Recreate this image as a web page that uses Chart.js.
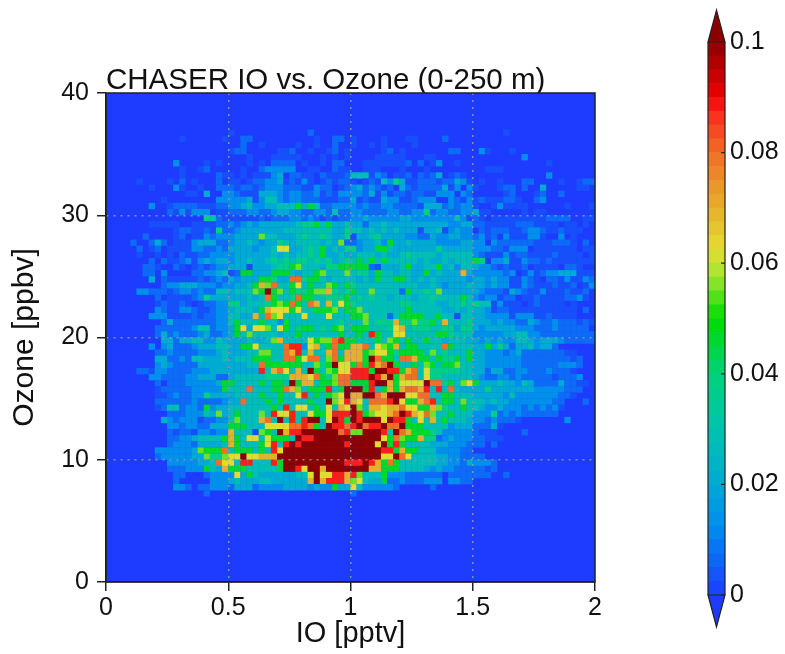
<!DOCTYPE html>
<html>
<head>
<meta charset="utf-8">
<title>CHASER IO vs. Ozone</title>
<script src="https://cdn.jsdelivr.net/npm/chart.js@4"></script>
<style>
    html, body { margin: 0; background: #fff; }
    #wrap { position: relative; width: 785px; height: 654px; }
    canvas { position: absolute; top: 0; }
    #heat-chart { left: 0; }
    #bar-chart { left: 690px; }
</style>
</head>
<body>
<div id="wrap">
    <canvas id="heat-chart" width="690" height="654"></canvas>
    <canvas id="bar-chart" width="95" height="654"></canvas>
</div>
<script>
// Values a code letter stands for, read against the colour bar
const levelValues = [0, 0.003, 0.007, 0.013, 0.02, 0.028, 0.037, 0.046, 0.055, 0.062, 0.07, 0.08, 0.088, 0.105];

const ioBinWidth = 0.025;
const ozoneBinWidth = 0.5;
const ozoneMax = 40;
const firstRow = 6; // rows above this one are empty

const colorbarTicks = [0, 0.02, 0.04, 0.06, 0.08, 0.1];
const colorValues = [0, 0.012, 0.02, 0.03, 0.04, 0.05, 0.0575, 0.0625, 0.07, 0.08, 0.0875, 0.09, 0.1];
const colorRGB = [[30,60,255],[0,140,240],[0,170,210],[0,195,175],[0,210,120],[0,220,0],[160,230,50],[230,220,50],[230,175,45],[240,110,40],[250,40,30],[240,0,0],[139,0,0]];

// One line per ozone bin from the top, one group per 10 IO bins, a code per cell
const cellRows = [
    "0 0 1000000000 0002000000 0 0 0000010000",
    "0 0010000001 0022000000 0000100220 1000010001 1000020000",
    "0 0 0020010000 0100100200 1001010000 1000000000",
    "0 0 1220000011 2001001201 0000012010 0000002200 0310001000",
    "0 0 0001000111 1100010101 0000111110 0011000000 0000000030",
    "0 0300001010 0001010222 2010010220 0011111112 0201300100 0 0010000000",
    "0 0010012000 0010023333 3001100211 0011100010 0010000000 0011100000",
    "0 0010000021 1010111340 2211021112 5551320112 0212401210 0 0030000000",
    "0000010000 1020100020 1101223341 2131012122 1012153641 1222122431 0100100022 0000100122",
    "0000000100 0310010022 2122123332 2211322012 3423212042 1222241303 1000122020 0400000110",
    "0 0001104003 3211144432 3322312133 3324131221 2211333032 0000012000 1200200000",
    "0000000001 0000000033 3334135532 3322211122 4121143311 2333003213 1211122100 2300000000",
    "0000000300 1222211122 3345334455 5747522333 3232233222 2144423233 1001311110 0000010001",
    "0 2131333011 2223322344 3322332522 3322223322 3362332233 4110000010 1100000000",
    "0 0000006521 1111121222 3323212122 3343333344 3333333531 2101111111 1122220011",
    "0000000111 1100111122 3234344444 4566757445 4424454444 4444443344 2211111222 1111011010",
    "0 0122112162 2344444445 5555555446 5545454544 4144513433 0212221123 3211211100",
    "0000002000 0120113233 3444485544 4565565446 1445644443 3224334433 2312031113 3100301000",
    "0000200242 0111344422 3445434465 4555545482 2344537445 4444333344 3303222222 1112221020",
    "0000020120 1111332232 4444344599 4456574546 6344775444 4444644444 3332213330 1111111011",
    "0000010010 1021122333 3444444545 4556574454 4555454456 5555455555 3211131221 1112111101",
    "0000000202 1123134344 3445445656 5665656456 5757575555 5454454555 7603341132 2121111111",
    "0000002210 0210121233 4441444566 7855546677 7772144457 4455745355 4332121120 1111022100",
    "0000002203 0000223345 1277444777 5455785558 5664755455 44745444a4 3333323013 1233444111",
    "0000000402 1111121232 4344477644 bb67754555 5454755775 4545444443 4434331132 1022131132",
    "0000000002 3344433323 34457a8b55 7957558757 6555555555 5445434445 4434331132 1112112013",
    "0000033222 1233232255 455587d785 766788a656 7558555527 5565844444 4322214321 1311121120",
    "0000000020 1111236444 444545b755 6b77556667 5656554555 4556555575 3233122011 2111122310",
    "0000000012 1121012233 6645556787 b75ba5a697 6555555566 5555445565 6551311101 2111101000",
    "0000000032 1133211233 455547a999 7955777857 7855555557 5555544545 4431221111 1111111020",
    "0000000333 1111212233 5544a5b895 5595559555 7785552577 7755755155 4433331333 1121111000",
    "0000000002 4222222233 5755575537 5555555565 5585666a66 86675a5556 4443433224 3223222121",
    "0000000022 2222355233 4794998597 5677565785 77755569a5 6665566466 4344444333 2223222220",
    "0000000024 2322234223 4758555545 5755555575 575c755995 5555776555 3333344553 3222222222",
    "0000000004 4244553354 44454458a5 5559788bc7 7555758757 5575545554 4343433554 3444322222",
    "0000000303 4222344455 447795555b cc39a57b77 aab5987a57 75555b7555 4474642445 3442000000",
    "0000000022 3222233345 444558855b ac5a55ab5a aa78997677 7758565557 4433323422 2222211000",
    "0000000044 2232554445 455577755b b79bb58b7a aa7db775bb a775766757 4433333322 2222221200",
    "0000000034 3222244444 44455b7777 7755867d99 7b7cabd755 7587577855 4433333322 2222333200",
    "0000022133 2222333444 44444c5ab9 5a5d758799 ccc7ddcc7a b596666655 4424422332 2232221000",
    "0000000332 2223344422 4555556666 aaa9b768bb cccdcad7ab b596655555 4322332322 2221222300",
    "0000000020 2223333347 7555575775 d7aa5778bb 777cdda799 99dbb67589 7444544354 2222422110",
    "0000000012 2222333337 555b55577b a85777c57d dd7c57a7ab bac5c5b544 4464444444 3333322200",
    "0000000011 2322336444 4555575575 59c575789d aaddbaddd9 9bb5577555 4444435333 3333221000",
    "0000000022 2222322223 44b5557575 555755d89c a95bbbcd97 7abc577585 5545443333 3332200020",
    "0000000012 5523327344 555555575c 59957595a9 d85aa9aab9 977a865575 5433433323 2323100000",
    "0 2223335484 5755585c99 c559779ccc dc7899abdc a9b8557555 3336232322 2222000000",
    "0000000004 3233312233 58555ab5d5 c5cdd59dc7 dcddd9dcc7 595a575554 3323222100 0000030000",
    "0 3323322444 7775559999 bbcb75dccb cdbccdbbd7 7755553444 2224100000",
    "0 2122133233 a5551875da ccddddddbc 88dddc5dba 7776533333 2111000020",
    "0 2233455557 a759959777 5dccdddddd ddddd97b87 7a66234333 2211100000",
    "0 2333244445 a755579c5c dcdddddddc dddd9d7c75 5554443332 2202000000",
    "0000000033 333348777b 5777575c9d dddddddddd dddddcc7a7 7555333322",
    "0000000023 3333448668 99d99aaadd dddddddddd ddddd99db9 5555443322 2200000000",
    "0 33333445b9 95cc555c7d dddddddddc ccdca7b755 5555443324 3332000000",
    "0 222333754a 777555557d dc9ddadddd dddaa77755 5543433222 2212000000",
    "0 0220002333 3947544444 4559d99cca c855573332 2222202222 2220020000",
    "0 0200000333 4544455444 444adaccca 8954472232 2233303322",
    "0 0332022333 2444233334 4443433744 9533333200 0002000000",
    "0 0000002000 0 0 2000000000"
];

// Turn one code into its value
function decodeCell(row, col) {
    const group = (cellRows[row] || '').split(' ')[Math.floor(col / 10)] || '';
    const ch = group[col % 10];
    return ch ? levelValues[parseInt(ch, 14)] : 0;
}

function colorFor(value) {
    const v = Math.min(value, colorValues[colorValues.length - 1]);
    let i = 0;
    while (i < colorValues.length - 2 && v > colorValues[i + 1]) i++;
    const f = (v - colorValues[i]) / (colorValues[i + 1] - colorValues[i]);
    const c = colorRGB[i].map((a, k) => Math.round(a + (colorRGB[i + 1][k] - a) * f));
    return `rgb(${c[0]},${c[1]},${c[2]})`;
}

const cellPoints = [];
const cellColors = [];
for (let r = 0; r < cellRows.length; r++) {
    for (let c = 0; c < 80; c++) {
        const value = decodeCell(r, c);
        if (value > 0) {
            cellPoints.push({
                x: (c + 0.5) * ioBinWidth,
                y: ozoneMax - (r + firstRow + 0.5) * ozoneBinWidth
            });
            cellColors.push(colorFor(value));
        }
    }
}

const textFont = '"Liberation Sans", Arial, sans-serif';
const lineColor = '#222';
const plainNumber = value => String(Number(value.toFixed(3)));

// Blue floor behind the cells and a closed frame round the plot
const plotFrame = {
    id: 'plotFrame',
    beforeDatasetsDraw(chart) {
        const a = chart.chartArea;
        chart.ctx.fillStyle = colorFor(0);
        chart.ctx.fillRect(a.left, a.top, a.right - a.left, a.bottom - a.top);
    },
    afterDraw(chart) {
        const a = chart.chartArea;
        const ctx = chart.ctx;
        ctx.save();
        ctx.strokeStyle = lineColor;
        ctx.lineWidth = 1.5;
        ctx.strokeRect(a.left, a.top, a.right - a.left, a.bottom - a.top);
        ctx.restore();
    }
};

function edgeAwareGrid(min, max) {
    return {
        z: 1,
        color: c => (c.tick && (c.tick.value === min || c.tick.value === max)) ? 'rgba(0,0,0,0)' : 'rgba(150,150,150,0.9)',
        lineWidth: 1.5,
        tickColor: lineColor,
        tickWidth: 1.5,
        tickLength: 9
    };
}

new Chart(document.getElementById('heat-chart'), {
    type: 'scatter',
    data: {
        datasets: [{
            data: cellPoints,
            pointStyle: 'rect',
            pointRadius: 4.5,
            pointBorderWidth: 0,
            pointBackgroundColor: cellColors
        }]
    },
    options: {
        responsive: false,
        animation: false,
        events: [],
        layout: { padding: { top: 60, right: 95, bottom: 0, left: 0 } },
        plugins: {
            legend: { display: false },
            tooltip: { enabled: false },
            title: {
                display: true,
                text: 'CHASER IO vs. Ozone (0-250 m)',
                align: 'start',
                fullSize: false,
                color: '#111',
                padding: { top: 6, bottom: -2.5 },
                font: { family: textFont, size: 29.5, weight: 'normal', lineHeight: 1 }
            }
        },
        scales: {
            x: {
                type: 'linear',
                min: 0,
                max: 2,
                afterFit: scale => { scale.height = 72; },
                grid: edgeAwareGrid(0, 2),
                border: { z: 1, dash: [2, 5], color: lineColor, width: 1.5 },
                ticks: { stepSize: 0.5, color: '#111', padding: 2, maxRotation: 0, font: { family: textFont, size: 25 }, callback: plainNumber },
                title: { display: true, text: 'IO [pptv]', color: '#111', padding: { top: 0, bottom: 3 }, font: { family: textFont, size: 29 } }
            },
            y: {
                type: 'linear',
                min: 0,
                max: ozoneMax,
                afterFit: scale => { scale.width = 106; },
                grid: edgeAwareGrid(0, ozoneMax),
                border: { z: 1, dash: [2, 5], color: lineColor, width: 1.5 },
                ticks: { stepSize: 10, color: '#111', padding: 8, font: { family: textFont, size: 25 } },
                title: { display: true, text: 'Ozone [ppbv]', color: '#111', padding: { top: 7, bottom: 0 }, font: { family: textFont, size: 30 } }
            }
        }
    },
    plugins: [plotFrame]
});

// Colour bar: stacked thin segments, arrows and inward ticks on the same scale
const barSegments = [];
const segmentCount = 40;
for (let i = 0; i < segmentCount; i++) {
    const step = 0.1 / segmentCount;
    barSegments.push({
        data: [step],
        backgroundColor: colorFor((i + 0.5) * step),
        barPercentage: 1,
        categoryPercentage: 1
    });
}

const barDecor = {
    id: 'barDecor',
    afterDraw(chart) {
        const a = chart.chartArea;
        const ctx = chart.ctx;
        const mid = (a.left + a.right) / 2;
        ctx.save();
        ctx.strokeStyle = lineColor;
        ctx.lineWidth = 1.2;
        // upper arrow
        ctx.beginPath();
        ctx.moveTo(a.left, a.top);
        ctx.lineTo(mid, a.top - 32);
        ctx.lineTo(a.right, a.top);
        ctx.closePath();
        ctx.fillStyle = colorFor(0.1);
        ctx.fill();
        ctx.stroke();
        // lower arrow
        ctx.beginPath();
        ctx.moveTo(a.left, a.bottom);
        ctx.lineTo(mid, a.bottom + 32);
        ctx.lineTo(a.right, a.bottom);
        ctx.closePath();
        ctx.fillStyle = colorFor(0);
        ctx.fill();
        ctx.stroke();
        // sides of the bar
        ctx.beginPath();
        ctx.moveTo(a.left, a.top);
        ctx.lineTo(a.left, a.bottom);
        ctx.moveTo(a.right, a.top);
        ctx.lineTo(a.right, a.bottom);
        const yScale = chart.scales.y;
        colorbarTicks.forEach(v => {
            ctx.moveTo(a.right - 4, yScale.getPixelForValue(v));
            ctx.lineTo(a.right, yScale.getPixelForValue(v));
        });
        ctx.stroke();
        ctx.restore();
    }
};

new Chart(document.getElementById('bar-chart'), {
    type: 'bar',
    data: { labels: [''], datasets: barSegments },
    options: {
        responsive: false,
        animation: false,
        events: [],
        layout: { padding: { top: 42, right: 0, bottom: 59, left: 18 } },
        plugins: { legend: { display: false }, tooltip: { enabled: false } },
        scales: {
            x: { display: false, stacked: true },
            y: {
                stacked: true,
                position: 'right',
                min: 0,
                max: 0.1,
                afterFit: scale => { scale.width = 60; },
                grid: { display: false, drawTicks: false },
                border: { display: false },
                ticks: { stepSize: 0.02, padding: 5, color: '#111', font: { family: textFont, size: 25 }, callback: plainNumber }
            }
        }
    },
    plugins: [barDecor]
});
</script>
</body>
</html>
